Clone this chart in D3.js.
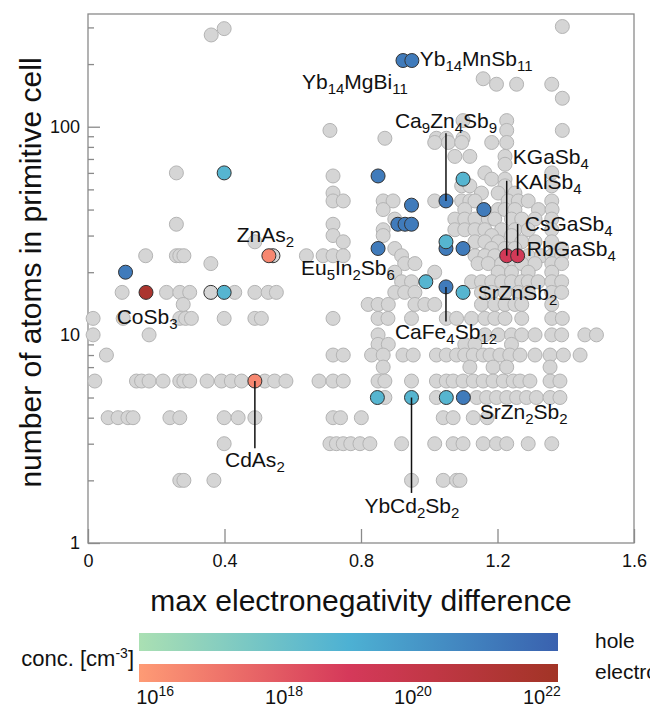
<!DOCTYPE html>
<html>
<head>
<meta charset="utf-8">
<script src="https://cdn.jsdelivr.net/npm/d3@7"></script>
<style>
  body { margin: 0; background: #fff; }
  text { font-family: "Liberation Sans", Arial, Helvetica, sans-serif; fill: #111; }
</style>
</head>
<body>
<svg id="chart" width="650" height="708"></svg>
<script>
// grey points: [atoms in primitive cell, [max electronegativity difference ...]]
var greyRows = [
  [303, [1.39]],
  [296, [0.399]],
  [276, [0.361]],
  [170, [1.158]],
  [160, [1.197, 1.256, 1.359]],
  [137, [1.39]],
  [107, [1.099, 1.227]],
  [96, [0.709, 1.227, 1.39]],
  [88, [0.87, 1.021, 1.05, 1.099]],
  [84, [1.016, 1.056, 1.095, 1.183, 1.227]],
  [72, [1.075, 1.119, 1.222]],
  [66, [1.222]],
  [60, [0.259, 1.163, 1.359]],
  [58, [0.718]],
  [56, [1.183, 1.222]],
  [52, [1.095, 1.119, 1.222, 1.359]],
  [48, [0.718, 1.153, 1.202, 1.251]],
  [44, [0.718, 0.748, 0.865, 0.894, 1.016, 1.095, 1.119, 1.134, 1.231, 1.261, 1.29, 1.359]],
  [40, [0.865, 1.104, 1.202, 1.222, 1.251, 1.32, 1.36]],
  [36, [0.899, 1.075, 1.104, 1.134, 1.173, 1.192, 1.241, 1.271, 1.31, 1.359]],
  [34, [0.259, 0.718]],
  [32, [0.865, 1.075, 1.104, 1.134, 1.163, 1.212, 1.251, 1.29, 1.359]],
  [30, [0.718, 0.865, 1.183, 1.241]],
  [28, [0.489, 0.748, 1.134, 1.163, 1.202, 1.271, 1.31, 1.359]],
  [26, [0.899, 1.183, 1.222, 1.251, 1.388]],
  [24, [0.169, 0.259, 0.269, 0.281, 0.64, 0.689, 0.718, 0.748, 0.919, 1.134, 1.163, 1.192, 1.29, 1.329, 1.359, 1.388]],
  [22, [0.36, 0.928, 0.958, 1.143, 1.173, 1.212, 1.251, 1.271, 1.31, 1.359, 1.388]],
  [20, [0.899, 1.016, 1.202, 1.241, 1.29, 1.359]],
  [18, [0.919, 0.948, 1.124, 1.153, 1.183, 1.212, 1.241, 1.271, 1.29, 1.319, 1.359, 1.388]],
  [16, [0.10, 0.23, 0.269, 0.298, 0.43, 0.489, 0.528, 0.552, 0.899, 0.928, 0.958, 1.153, 1.183, 1.222, 1.261, 1.29, 1.359, 1.388]],
  [14, [0.279, 0.821, 0.85, 0.88, 0.958, 0.987, 1.016, 1.153, 1.192, 1.222, 1.251, 1.271, 1.359]],
  [12, [0.015, 0.103, 0.269, 0.286, 0.303, 0.399, 0.489, 0.508, 0.718, 0.85, 0.879, 0.948, 1.05, 1.08, 1.124, 1.163, 1.192, 1.222, 1.271, 1.359, 1.39]],
  [10, [0.015, 0.179, 0.85, 1.163, 1.202, 1.241, 1.271, 1.31, 1.359, 1.388, 1.456, 1.49]],
  [9, [0.85, 0.88, 1.104, 1.134, 1.241]],
  [8, [0.054, 0.718, 0.748, 0.831, 0.865, 0.923, 0.953, 1.021, 1.05, 1.08, 1.104, 1.129, 1.158, 1.178, 1.207, 1.236, 1.266, 1.31, 1.354, 1.393, 1.442]],
  [7, [0.865, 1.119, 1.187, 1.227, 1.354]],
  [6, [0.02, 0.142, 0.157, 0.179, 0.22, 0.269, 0.281, 0.298, 0.349, 0.391, 0.42, 0.45, 0.518, 0.547, 0.58, 0.677, 0.718, 0.748, 0.85, 0.87, 0.948, 1.021, 1.05, 1.07, 1.099, 1.129, 1.158, 1.187, 1.217, 1.246, 1.266, 1.295, 1.354, 1.383]],
  [5, [0.87, 1.021, 1.139, 1.168, 1.197, 1.227, 1.256, 1.285, 1.314, 1.354, 1.383]],
  [4, [0.059, 0.088, 0.117, 0.132, 0.24, 0.269, 0.399, 0.44, 0.489, 0.718, 0.74, 0.801, 1.041, 1.07, 1.129, 1.17]],
  [3, [0.399, 0.709, 0.728, 0.748, 0.77, 0.797, 0.826, 0.919, 1.016, 1.07, 1.099, 1.158, 1.197, 1.227, 1.29, 1.359]],
  [2, [0.269, 0.281, 0.369, 0.948, 1.041, 1.08, 1.09]]
];

// measured points without a concentration (outlined)
var unknownPoints = [[0.36, 16], [0.542, 24]];

// doped points: [x, atoms, carrier, log10 concentration]
var dopedPoints = [
  [0.11, 20, "hole", 21.2],
  [0.923, 208, "hole", 21.2], [0.949, 208, "hole", 21.2],
  [0.85, 58, "hole", 21.2],
  [1.049, 44, "hole", 21.2],
  [0.948, 42, "hole", 21.2],
  [0.908, 34, "hole", 21.2], [0.929, 34, "hole", 21.2], [0.948, 34, "hole", 21.2],
  [0.85, 26, "hole", 21.2], [1.049, 26, "hole", 21.2], [1.099, 26, "hole", 21.2],
  [1.16, 40, "hole", 21.2],
  [1.049, 17, "hole", 21.2],
  [1.10, 5, "hole", 21.2],
  [0.399, 60, "hole", 18.7],
  [0.399, 16, "hole", 18.7],
  [1.099, 56, "hole", 18.7],
  [1.049, 28, "hole", 18.7],
  [0.99, 18, "hole", 18.7],
  [1.099, 16, "hole", 18.7],
  [0.848, 5, "hole", 18.7], [0.948, 5, "hole", 18.7], [1.05, 5, "hole", 18.7],
  [0.17, 16, "electron", 21.7],
  [0.53, 24, "electron", 16.4],
  [0.489, 6, "electron", 16.4],
  [1.227, 24, "electron", 19.2], [1.259, 24, "electron", 19.2]
];

// labels: [text, x, atoms (text centre), anchor, leader from [x, atoms] to atoms]
var labels = [
  ["Yb_14MnSb_11", 0.972, 209, "start", null],
  ["Yb_14MgBi_11", 0.937, 162, "end", null],
  ["Ca_9Zn_4Sb_9", 1.049, 105, "middle", [1.049, 44, 93]],
  ["KGaSb_4", 1.245, 70.7, "start", null],
  ["KAlSb_4", 1.251, 53.6, "start", [1.227, 24, 55]],
  ["CsGaSb_4", 1.28, 33.7, "start", [1.259, 24, 34.1]],
  ["RbGaSb_4", 1.286, 25.5, "start", null],
  ["ZnAs_2", 0.436, 29.8, "start", null],
  ["Eu_5In_2Sb_6", 0.624, 20.7, "start", null],
  ["CoSb_3", 0.084, 12.0, "start", null],
  ["CdAs_2", 0.489, 2.49, "middle", [0.489, 6, 2.85]],
  ["SrZnSb_2", 1.142, 15.7, "start", null],
  ["CaFe_4Sb_12", 1.049, 10.2, "middle", [1.049, 17, 11.6]],
  ["SrZn_2Sb_2", 1.148, 4.2, "start", null],
  ["YbCd_2Sb_2", 0.949, 1.49, "middle", [0.948, 5, 1.74]]
];

var xTicks = [0, 0.4, 0.8, 1.2, 1.6];
var xTickLabels = ["0", "0.4", "0.8", "1.2", "1.6"];
var yMajor = [1, 10, 100];
var yMinor = [2, 3, 4, 5, 6, 7, 8, 9, 20, 30, 40, 50, 60, 70, 80, 90, 200, 300];
var concTicks = [16, 18, 20, 22];
var holeColors = ["#a3dcb5", "#4db1d3", "#3b67b2"];
var electronColors = ["#fb9373", "#d5395a", "#a6342a"];

var width = 650, height = 708,
    margin = {top: 14, right: 16, bottom: 165, left: 88},
    r = 7;

var svg = d3.select("#chart");

var x = d3.scaleLinear().domain([0, 1.6]).range([margin.left, width - margin.right]);
var y = d3.scaleLog().domain([1, 348]).range([height - margin.bottom, margin.top]);

var holeScale = d3.scaleLinear().domain([16, 19, 22]).range(holeColors);
var elecScale = d3.scaleLinear().domain([16, 19, 22]).range(electronColors);

// frame
svg.append("rect")
  .attr("x", margin.left).attr("y", margin.top)
  .attr("width", width - margin.left - margin.right)
  .attr("height", height - margin.top - margin.bottom)
  .attr("fill", "none").attr("stroke", "#8a8a8a").attr("stroke-width", 1.3);

// y axis, ticks pointing inside
var gy = svg.append("g").attr("transform", `translate(${margin.left},0)`)
  .call(d3.axisLeft(y).tickValues(yMajor).tickFormat(d3.format("d"))
    .tickSizeInner(-12).tickSizeOuter(0).tickPadding(8));
var gyMinor = svg.append("g").attr("transform", `translate(${margin.left},0)`)
  .call(d3.axisLeft(y).tickValues(yMinor).tickFormat("").tickSizeInner(-6).tickSizeOuter(0));

var gx = svg.append("g").attr("transform", `translate(0,${height - margin.bottom})`)
  .call(d3.axisBottom(x).tickValues(xTicks).tickFormat((d, i) => xTickLabels[i])
    .tickSizeInner(-14).tickSizeOuter(0).tickPadding(11));

[gy, gyMinor, gx].forEach(g => {
  g.select(".domain").remove();
  g.selectAll(".tick line").attr("stroke", "#8a8a8a").attr("stroke-width", 1.3);
  g.selectAll(".tick text").style("font-size", "18px").attr("fill", "#111");
});

// axis titles
svg.append("text")
  .attr("x", (x.range()[0] + x.range()[1]) / 2).attr("y", 611)
  .attr("text-anchor", "middle").style("font-size", "30px")
  .text("max electronegativity difference");
svg.append("text")
  .attr("transform", `translate(41,${(y.range()[0] + y.range()[1]) / 2 - 6}) rotate(-90)`)
  .attr("text-anchor", "middle").style("font-size", "30px")
  .text("number of atoms in primitive cell");

// points
var greyPts = [];
greyRows.forEach(row => row[1].forEach(v => greyPts.push([v, row[0]])));

svg.append("g").selectAll("circle").data(greyPts).enter().append("circle")
  .attr("cx", d => x(d[0])).attr("cy", d => y(d[1])).attr("r", r)
  .attr("fill", "#d5d5d5").attr("stroke", "#b4b4b4").attr("stroke-width", 1);

svg.append("g").selectAll("circle").data(unknownPoints).enter().append("circle")
  .attr("cx", d => x(d[0])).attr("cy", d => y(d[1])).attr("r", r)
  .attr("fill", "#d5d5d5").attr("stroke", "#333").attr("stroke-width", 1);

svg.append("g").selectAll("circle").data(dopedPoints).enter().append("circle")
  .attr("cx", d => x(d[0])).attr("cy", d => y(d[1])).attr("r", r)
  .attr("fill", d => d[2] == "hole" ? holeScale(d[3]) : elecScale(d[3]))
  .attr("stroke", "#333").attr("stroke-width", 1);

// text with _digits as subscripts
function richText(sel, str, size, subSize) {
  var parts = str.match(/_\d+|[^_]+/g);
  var down = false;
  parts.forEach(p => {
    var sub = p[0] == "_";
    var t = sel.append("tspan").text(sub ? p.slice(1) : p)
      .style("font-size", (sub ? subSize : size) + "px");
    if (sub && !down) { t.attr("dy", 5); down = true; }
    else if (!sub && down) { t.attr("dy", -5); down = false; }
  });
}

var lg = svg.append("g");
labels.forEach(l => {
  if (l[4]) {
    lg.append("line")
      .attr("x1", x(l[4][0])).attr("x2", x(l[4][0]))
      .attr("y1", y(l[4][1])).attr("y2", y(l[4][2]))
      .attr("stroke", "#111").attr("stroke-width", 1.5);
  }
  var t = lg.append("text")
    .attr("x", x(l[1])).attr("y", y(l[2]) + 6)
    .attr("text-anchor", l[3]);
  richText(t, l[0], 21, 15);
});

// colour bars
var cb = d3.scaleLinear().domain([15.75, 22.25]).range([139, 558]);
var defs = svg.append("defs");
[["holeGrad", holeScale], ["elecGrad", elecScale]].forEach(g => {
  var grad = defs.append("linearGradient").attr("id", g[0]);
  d3.range(0, 11).forEach(i => {
    var v = cb.domain()[0] + i / 10 * (cb.domain()[1] - cb.domain()[0]);
    grad.append("stop").attr("offset", i * 10 + "%").attr("stop-color", g[1](v));
  });
});
svg.append("rect").attr("x", cb.range()[0]).attr("y", 633)
  .attr("width", cb.range()[1] - cb.range()[0]).attr("height", 18)
  .attr("fill", "url(#holeGrad)");
svg.append("rect").attr("x", cb.range()[0]).attr("y", 664)
  .attr("width", cb.range()[1] - cb.range()[0]).attr("height", 18)
  .attr("fill", "url(#elecGrad)");

svg.append("text").attr("x", 595).attr("y", 648).style("font-size", "21px").text("hole");
svg.append("text").attr("x", 595).attr("y", 679).style("font-size", "21px").text("electron");

var conc = svg.append("text").attr("x", 134).attr("y", 666)
  .attr("text-anchor", "end").style("font-size", "22px");
conc.append("tspan").text("conc. [cm");
conc.append("tspan").attr("dy", -8).style("font-size", "14px").text("-3");
conc.append("tspan").attr("dy", 8).text("]");

concTicks.forEach(c => {
  var t = svg.append("text").attr("x", cb(c)).attr("y", 704)
    .attr("text-anchor", "middle").style("font-size", "20px");
  t.append("tspan").text("10");
  t.append("tspan").attr("dy", -8).style("font-size", "14px").text(c);
});
</script>
</body>
</html>
